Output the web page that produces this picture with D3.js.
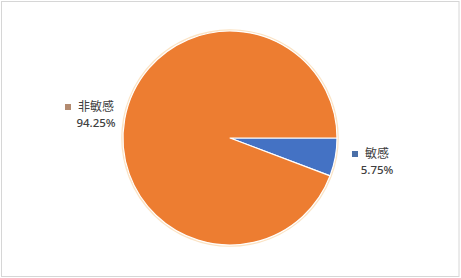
<!DOCTYPE html>
<html>
<head>
<meta charset="utf-8">
<script src="https://cdn.jsdelivr.net/npm/d3@7"></script>
<style>
  html, body { margin: 0; padding: 0; background: #fff; }
  svg { display: block; }
</style>
</head>
<body>
<svg id="chart" width="461" height="278"></svg>
<script>
// Share of samples by sensitivity
const categories = ["敏感", "非敏感"];
const values = [5.75, 94.25];
const valueLabels = ["5.75%", "94.25%"];
const colors = ["#4472C4", "#ED7D31"];
const markerColors = ["#4A6FA8", "#B38B70"];

const W = 461, H = 278;
const cx = 230, cy = 138, R = 107;

const svg = d3.select("#chart");

// chart frame
svg.append("rect")
  .attr("x", 1.5).attr("y", 1.5)
  .attr("width", W - 3.5).attr("height", H - 3)
  .attr("fill", "#fff")
  .attr("stroke", "#d6d6d6")
  .attr("stroke-width", 1);

const pie = d3.pie()
  .value(d => d)
  .sort(null)
  .startAngle(Math.PI / 2)
  .endAngle(Math.PI / 2 + 2 * Math.PI);

const arcs = pie(values);
const arc = d3.arc().innerRadius(0).outerRadius(R);

const g = svg.append("g").attr("transform", `translate(${cx},${cy})`);

// soft halo around the pie edge
g.append("circle")
  .attr("r", R + 0.8)
  .attr("fill", "none")
  .attr("stroke", "#fbe3c4")
  .attr("stroke-width", 2);

g.selectAll("path.slice")
  .data(arcs)
  .enter().append("path")
  .attr("class", "slice")
  .attr("d", arc)
  .attr("fill", (d, i) => colors[i])
  .attr("stroke", "#fff")
  .attr("stroke-width", 1.2)
  .attr("stroke-linejoin", "round");

// data labels: marker + category on first line, percentage below
const labelPos = [
  { x: 377, y: 154 },
  { x: 96, y: 107 }
];

const labels = svg.selectAll("g.lbl")
  .data(arcs)
  .enter().append("g")
  .attr("class", "lbl")
  .attr("transform", (d, i) => `translate(${labelPos[i].x},${labelPos[i].y})`);

labels.append("text")
  .attr("text-anchor", "middle")
  .attr("dy", "0.35em")
  .attr("font-family", "'Noto Sans CJK SC', 'Noto Sans', sans-serif")
  .attr("font-size", 12)
  .attr("fill", "#404040")
  .text((d, i) => categories[i])
  .each(function(d, i) {
    const bb = this.getBBox();
    d3.select(this.parentNode).append("rect")
      .attr("x", bb.x - 13)
      .attr("y", -3)
      .attr("width", 6).attr("height", 6)
      .attr("fill", markerColors[i]);
  });

labels.append("text")
  .attr("text-anchor", "middle")
  .attr("y", 16)
  .attr("dy", "0.35em")
  .attr("font-family", "'Noto Sans', 'Liberation Sans', sans-serif")
  .attr("font-size", 11.5)
  .attr("font-weight", 500)
  .attr("fill", "#404040")
  .text((d, i) => valueLabels[i]);
</script>
</body>
</html>
